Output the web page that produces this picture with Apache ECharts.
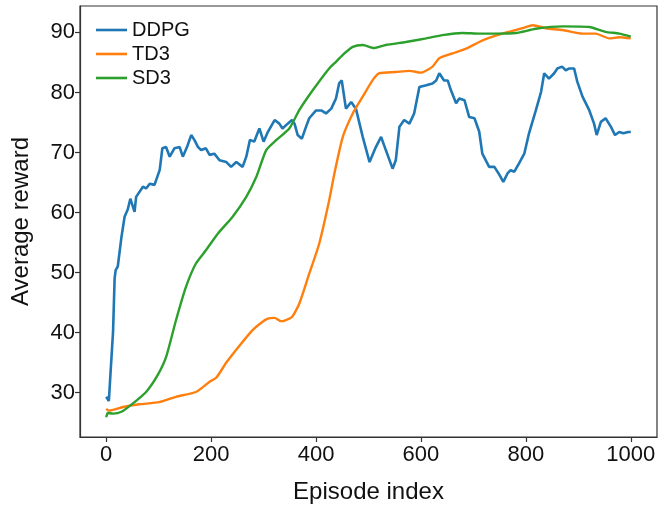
<!DOCTYPE html>
<html>
<head>
<meta charset="utf-8">
<script src="https://cdn.jsdelivr.net/npm/echarts@6/dist/echarts.min.js"></script>
<style>html,body{margin:0;padding:0;background:#fff}#c{width:662px;height:510px}</style>
</head>
<body>
<div id="c"></div>
<script>
const seriesNames = ['DDPG', 'TD3', 'SD3'];
const xTicks = [0, 200, 400, 600, 800, 1000];
const yTicks = [30, 40, 50, 60, 70, 80, 90];

const ddpgEp = [0,5,8,13,16,18,22,29,35,41,46,48,54,57,70,76,83,92,102,107,114,121,130,140,146,154,162,168,175,181,190,197,206,216,229,238,248,260,267,274,282,292,300,308,321,330,336,346,354,359,365,373,381,387,400,410,419,429,438,444,449,457,467,476,489,502,514,524,533,546,552,559,568,578,587,597,610,622,629,635,644,651,657,667,673,683,692,702,711,717,730,740,748,757,765,771,778,787,797,806,819,829,835,844,854,860,869,876,883,892,898,908,921,930,935,943,952,962,970,978,986,995,1000];
const ddpgVal = [29.3,28.6,33,40.1,49,50.4,51,55.9,59.3,60.5,62.3,62,60.1,62.6,64.3,64,64.8,64.6,67.1,70.7,70.9,69.3,70.7,70.9,69.3,70.9,72.9,72.1,70.9,70.4,70.7,69.6,69.8,68.7,68.4,67.6,68.4,67.6,69.3,72.1,71.8,74.0,71.8,73.4,75.4,74.8,74.0,74.8,75.4,74.8,72.9,72.3,74.3,75.7,77.0,77.0,76.5,77.3,79.0,81.5,82.0,77.3,78.4,77.3,72.6,68.4,70.9,72.6,70.4,67.3,68.7,74.3,75.4,74.8,76.5,80.9,81.2,81.5,82.0,83.2,82.0,82.0,80.4,78.2,79.0,78.7,75.9,75.7,73.5,69.8,67.6,67.6,66.5,65.1,66.5,67.05,66.8,68.2,69.8,73.2,77.0,80.1,83.2,82.3,83.2,84.0,84.3,83.7,84.0,84.0,81.8,79.3,77.0,74.8,72.9,75.1,75.7,74.3,72.9,73.4,73.2,73.4,73.4];

const td3Ep = [0,5,32,63,101,133,171,197,210,229,254,279,295,308,321,333,340,354,368,387,406,425,435,451,470,489,508,521,552,578,600,622,635,660,686,711,727,755,794,813,838,870,908,933,959,978,1000];
const td3Val = [27.3,27.0,27.6,28.05,28.4,29.3,30.1,31.8,32.5,35,37.8,40.4,41.6,42.3,42.45,41.9,42.0,42.6,44.8,49.8,54.8,62,66.5,72.6,76.5,79.3,82.05,83.2,83.4,83.6,83.3,84.3,85.7,86.5,87.3,88.4,89.0,89.8,90.7,91.2,90.7,90.4,89.8,89.8,89.0,89.2,89.0];

const sd3Ep = [0,3,13,29,51,76,98,114,133,152,171,190,213,241,267,286,305,324,349,368,394,425,438,454,470,489,511,533,571,610,641,679,711,743,781,819,870,921,952,978,1000];
const sd3Val = [25.9,26.6,26.5,26.8,28.2,30.1,32.9,35.9,42.05,47.6,51.5,53.7,56.5,59.3,62.6,65.9,70.4,72.05,74.0,77.05,80.4,84.0,85.1,86.5,87.6,87.9,87.4,87.9,88.4,89.0,89.55,89.9,89.8,89.8,89.9,90.6,91.0,90.9,90.1,89.8,89.3];

const colors = ['#1f77b4', '#ff7f0e', '#2ca02c'];
const pairs = (xs, ys) => xs.map((x, i) => [x, ys[i]]);
const font = 'Liberation Sans, Arial, sans-serif';

const chart = echarts.init(document.getElementById('c'), null, {renderer: 'canvas'});
chart.setOption({
  animation: false,
  color: colors,
  grid: {left: 80, right: 5, top: 6, bottom: 73, show: true, borderColor: '#333', borderWidth: 1.2, containLabel: false},
  legend: {
    orient: 'vertical', left: 91, top: 15,
    icon: 'rect', itemWidth: 31, itemHeight: 2.6, itemGap: 4, itemTextGap: 10,
    textStyle: {fontFamily: font, fontSize: 20, color: '#111'},
    data: seriesNames
  },
  xAxis: {
    type: 'value', min: -50, max: 1050,
    name: 'Episode index', nameLocation: 'middle', nameGap: 43,
    nameTextStyle: {fontFamily: font, fontSize: 24, color: '#111'},
    axisLine: {show: true, onZero: false, lineStyle: {color: '#333', width: 1.2}},
    axisTick: {show: true, length: 5, lineStyle: {color: '#333', width: 1.2}, customValues: xTicks},
    axisLabel: {fontFamily: font, fontSize: 22, color: '#111', margin: 7, customValues: xTicks, formatter: v => String(v)},
    splitLine: {show: false}
  },
  yAxis: {
    type: 'value', min: 22.6, max: 94.4,
    name: 'Average reward', nameLocation: 'middle', nameGap: 47,
    nameTextStyle: {fontFamily: font, fontSize: 24, color: '#111'},
    axisLine: {show: true, onZero: false, lineStyle: {color: '#333', width: 1.2}},
    axisTick: {show: true, length: 5, lineStyle: {color: '#333', width: 1.2}, customValues: yTicks},
    axisLabel: {fontFamily: font, fontSize: 22, color: '#111', margin: 5, customValues: yTicks, formatter: v => String(v)},
    splitLine: {show: false}
  },
  series: [
    {name: 'DDPG', type: 'line', symbol: 'none', data: pairs(ddpgEp, ddpgVal), lineStyle: {width: 2.6}},
    {name: 'TD3', type: 'line', symbol: 'none', smooth: 0.2, data: pairs(td3Ep, td3Val), lineStyle: {width: 2.4}},
    {name: 'SD3', type: 'line', symbol: 'none', smooth: 0.2, data: pairs(sd3Ep, sd3Val), lineStyle: {width: 2.4}}
  ]
});
</script>
</body>
</html>
